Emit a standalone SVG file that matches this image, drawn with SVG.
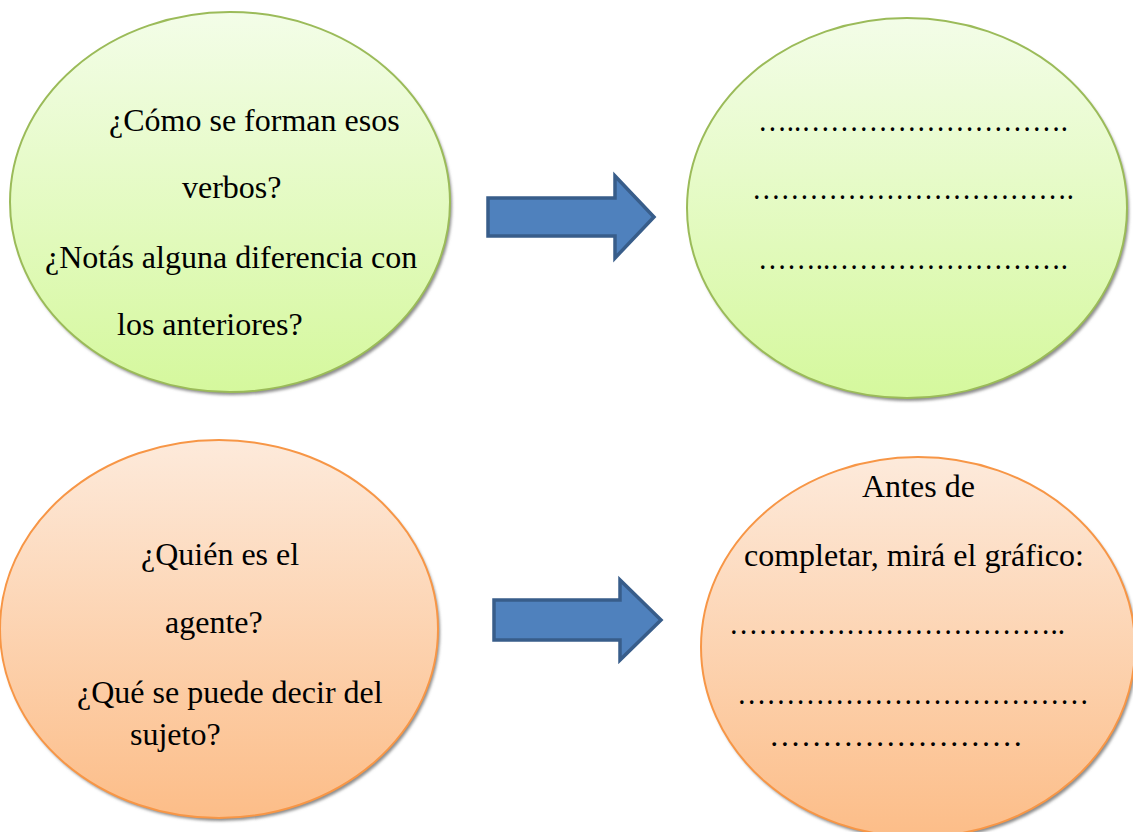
<svg xmlns="http://www.w3.org/2000/svg" width="1133" height="832" viewBox="0 0 1133 832">
<defs>
<linearGradient id="gGreen" x1="0" y1="0" x2="0" y2="1">
<stop offset="0" stop-color="#f3fde8"/>
<stop offset="1" stop-color="#d5f89d"/>
</linearGradient>
<linearGradient id="gOrange" x1="0" y1="0" x2="0" y2="1">
<stop offset="0" stop-color="#fdeadb"/>
<stop offset="1" stop-color="#fcbd88"/>
</linearGradient>
<filter id="shadow" x="-10%" y="-10%" width="120%" height="120%">
<feGaussianBlur stdDeviation="1.5"/>
</filter>
</defs>
<style>
.green{fill:url(#gGreen);stroke:#9bbb59;stroke-width:2}
.orange{fill:url(#gOrange);stroke:#f79646;stroke-width:2}
.sh{fill:#8c8c8c;filter:url(#shadow)}
.arrow{fill:#4f81bd;stroke:#385d8a;stroke-width:3.5;stroke-linejoin:miter}
text{font-family:"Liberation Serif","Times New Roman",serif;font-size:32px;fill:#000}
</style>
<rect width="1133" height="832" fill="#ffffff"/>

<g id="node-q1">
<ellipse class="sh" cx="232" cy="205" rx="220" ry="190"/>
<ellipse class="green" cx="230" cy="202" rx="220" ry="190"/>
<text x="109" y="131">¿Cómo se forman esos</text>
<text x="182" y="198">verbos?</text>
<text x="45" y="268">¿Notás alguna diferencia con</text>
<text x="117" y="335">los anteriores?</text>
</g>

<g id="node-a1">
<ellipse class="sh" cx="909" cy="211" rx="220" ry="190"/>
<ellipse class="green" cx="907" cy="208" rx="220" ry="190"/>
<text x="758" y="131" textLength="310" lengthAdjust="spacingAndGlyphs">…..……………………….</text>
<text x="752" y="199" textLength="322" lengthAdjust="spacingAndGlyphs">…………………………….</text>
<text x="758" y="269" textLength="310" lengthAdjust="spacingAndGlyphs">……..…………………….</text>
</g>

<g id="node-q2">
<ellipse class="sh" cx="221" cy="632" rx="219" ry="189"/>
<ellipse class="orange" cx="219" cy="629" rx="219" ry="189"/>
<text x="141" y="565">¿Quién es el</text>
<text x="165" y="633">agente?</text>
<text x="77" y="703">¿Qué se puede decir del</text>
<text x="130" y="745">sujeto?</text>
</g>

<g id="node-a2">
<ellipse class="sh" cx="920" cy="650" rx="217" ry="190"/>
<ellipse class="orange" cx="918" cy="647" rx="217" ry="190"/>
<text x="862" y="497">Antes de</text>
<text x="744" y="566">completar, mirá el gráfico:</text>
<text x="729" y="634" textLength="336" lengthAdjust="spacingAndGlyphs">……………………………..</text>
<text x="737" y="704" textLength="352" lengthAdjust="spacingAndGlyphs">………………………………</text>
<text x="769" y="746" textLength="254" lengthAdjust="spacingAndGlyphs">……………………</text>
</g>

<g id="connectors">
<path class="arrow" d="M488,198 L615,198 L615,176 L654,217 L615,258 L615,236 L488,236 Z"/>
<path class="arrow" d="M494,600 L620,600 L620,580 L661,620 L620,660 L620,640 L494,640 Z"/>
</g>
</svg>
